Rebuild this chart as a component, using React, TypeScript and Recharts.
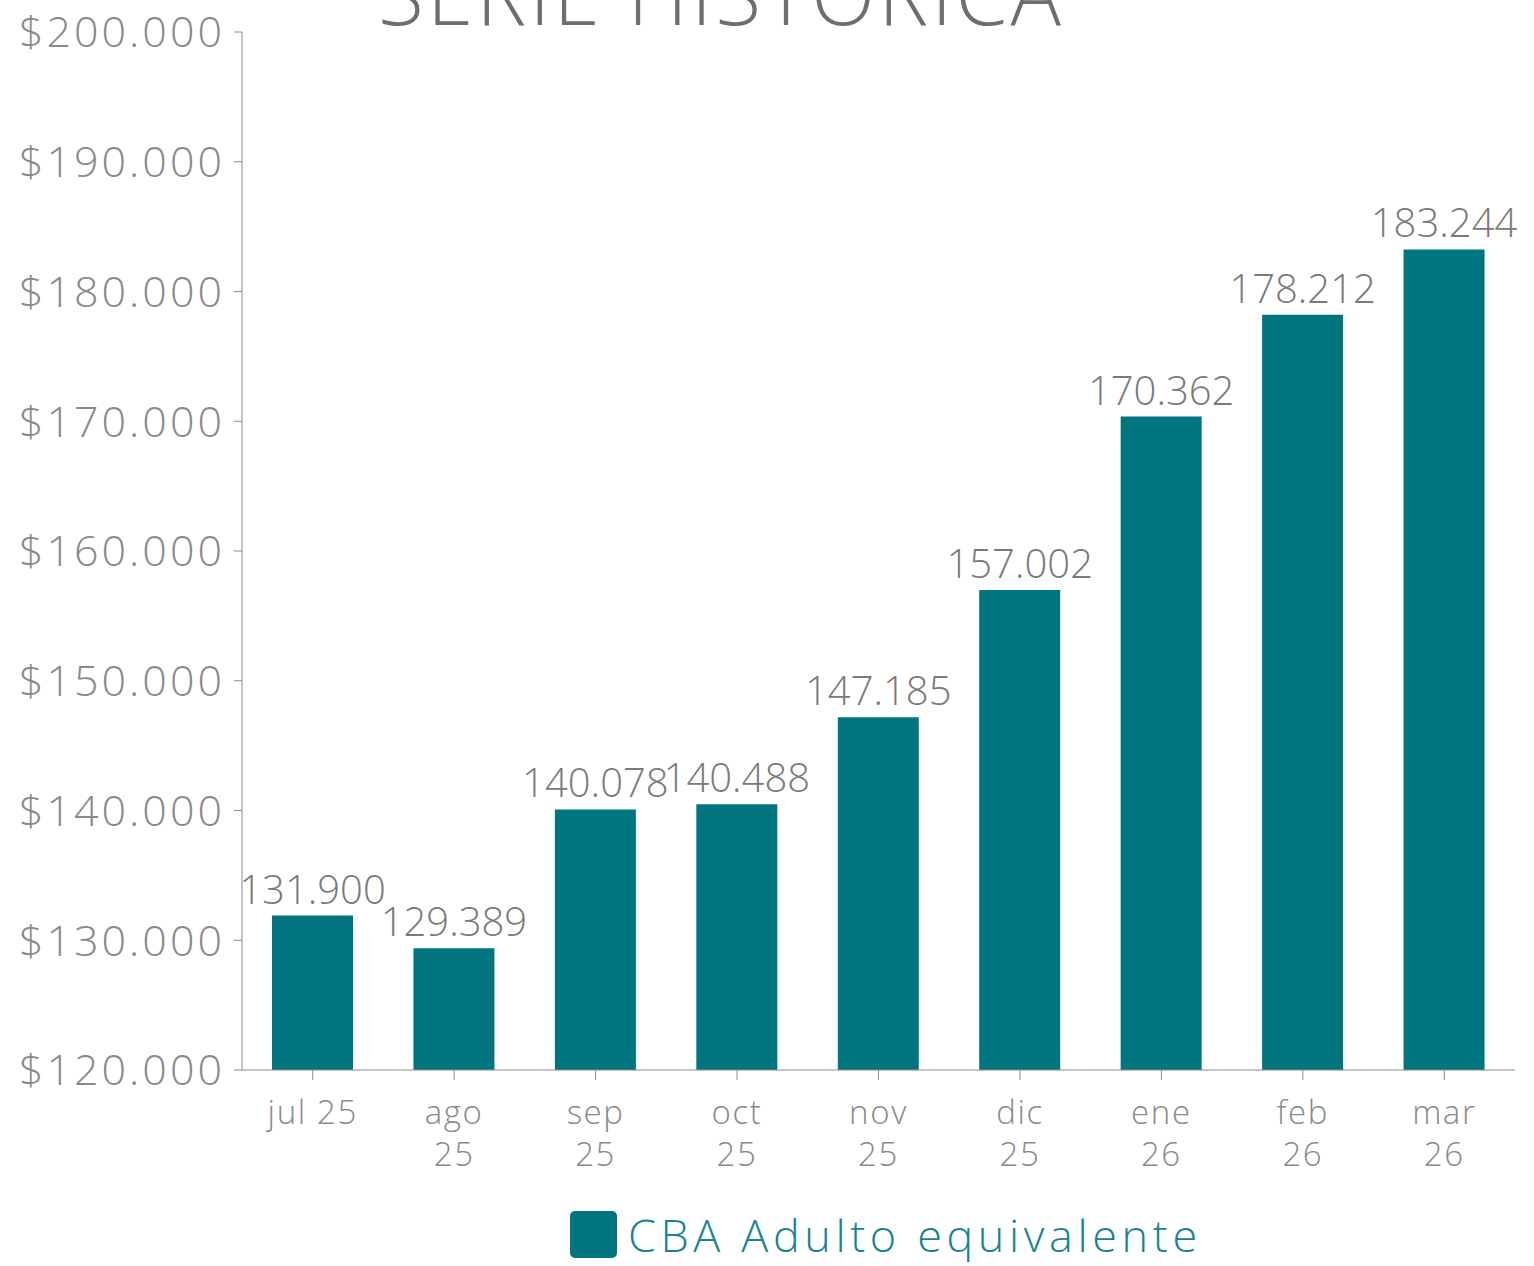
import { BarChart, Bar, XAxis, YAxis, LabelList, Legend } from "recharts";

const MONTHS = ["jul 25", "ago 25", "sep 25", "oct 25", "nov 25", "dic 25", "ene 26", "feb 26", "mar 26"];
const TICK_LINES = [["jul 25"], ["ago", "25"], ["sep", "25"], ["oct", "25"], ["nov", "25"], ["dic", "25"], ["ene", "26"], ["feb", "26"], ["mar", "26"]];
const CBA_VALUES = [131900, 129389, 140078, 140488, 147185, 157002, 170362, 178212, 183244];
const Y_TICKS = [120000, 130000, 140000, 150000, 160000, 170000, 180000, 190000, 200000];

const SERIES_NAME = "CBA Adulto equivalente";
const BAR_COLOR = "#017580";
const AXIS_COLOR = "#8c8c8c";
const FONT = "'Open Sans', sans-serif";

const data = MONTHS.map((m, i) => ({ month: m, value: CBA_VALUES[i] }));

const fmt = (v: number) => String(v).replace(/\B(?=(\d{3})+(?!\d))/g, ".");

// month label, wrapped in two lines like the original (except the first one)
const MonthTick = ({ x, y, index }: any) => {
  const lines = TICK_LINES[index] || [];
  return (
    <text
      x={x}
      y={y + 44}
      textAnchor="middle"
      fill="#8a8a8a"
      fontSize={33}
      fontWeight={300}
      letterSpacing={1.6}
      fontFamily={FONT}
    >
      {lines.map((l, i) => (
        <tspan key={i} x={x} dy={i === 0 ? 0 : 42}>
          {l}
        </tspan>
      ))}
    </text>
  );
};

const LegendBox = () => (
  <div style={{ height: 86, display: "flex", alignItems: "flex-start", paddingTop: 31, paddingLeft: 570, boxSizing: "border-box" }}>
    <div style={{ width: 47, height: 47, background: BAR_COLOR, borderRadius: 5, marginRight: 11, flexShrink: 0 }} />
    <span
      style={{
        fontFamily: FONT,
        fontSize: 45,
        fontWeight: 300,
        letterSpacing: 4.6,
        color: "#17848f",
        lineHeight: "47px",
        whiteSpace: "nowrap",
      }}
    >
      {SERIES_NAME}
    </span>
  </div>
);

export default function App() {
  return (
    <div style={{ position: "absolute", left: 0, top: 0, width: 1534, height: 1266, background: "#fff", overflow: "hidden" }}>
      <div
        style={{
          position: "absolute",
          left: 0,
          width: 1442,
          top: -57,
          textAlign: "center",
          fontFamily: FONT,
          fontSize: 84,
          fontWeight: 300,
          lineHeight: "100px",
          color: "#6e6e6e",
          letterSpacing: 3,
        }}
      >
        SERIE HISTÓRICA
      </div>
      <BarChart width={1534} height={1266} data={data} margin={{ top: 32, right: 19, left: 0, bottom: 0 }}>
        <YAxis
          width={242}
          domain={[120000, 200000]}
          ticks={Y_TICKS}
          tickFormatter={(v: number) => "$" + fmt(v)}
          stroke={AXIS_COLOR}
          tickSize={8}
          tickMargin={9}
          tick={{ fill: "#8a8a8a", fontSize: 43, fontWeight: 300, letterSpacing: 3, fontFamily: FONT }}
          allowDataOverflow
        />
        <XAxis dataKey="month" stroke={AXIS_COLOR} tickSize={10} tickMargin={0} height={110} tick={<MonthTick />} interval={0} />
        <Legend verticalAlign="bottom" height={86} content={<LegendBox />} wrapperStyle={{ left: 0, width: 1534 }} />
        <Bar dataKey="value" name={SERIES_NAME} fill={BAR_COLOR} barSize={81} isAnimationActive={false}>
          <LabelList
            dataKey="value"
            position="top"
            offset={12}
            formatter={(v: any) => fmt(Number(v))}
            fill="#7a7a7a"
            fontSize={40}
            fontWeight={300}
            fontFamily={FONT}
          />
        </Bar>
      </BarChart>
    </div>
  );
}
